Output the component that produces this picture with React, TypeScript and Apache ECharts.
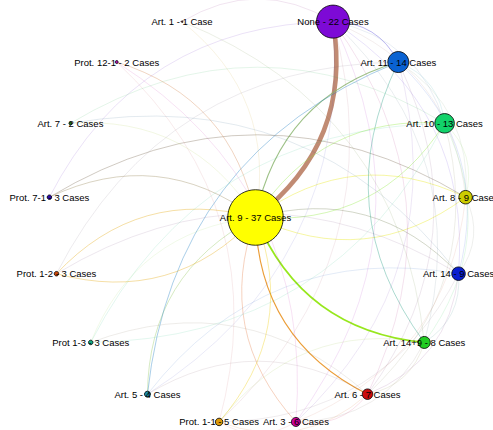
import React, { useEffect, useRef } from "react";
import * as echarts from "echarts";

// Nodes (Art. 9 sits in the middle, the rest go clockwise from the top)
const nodeNames = [
  "Art. 9", "None", "Art. 11", "Art. 10", "Art. 8", "Art. 14", "Art. 14+9", "Art. 6",
  "Art. 3", "Prot. 1-1", "Art. 5", "Prot 1-3", "Prot. 1-2", "Prot. 7-1", "Art. 7",
  "Prot. 12-1", "Art. 1",
];
const nodeCases = [37, 22, 14, 13, 9, 9, 8, 7, 6, 5, 4, 3, 3, 3, 2, 2, 1];
const nodeColors = [
  "#ffff00", "#7d0ad6", "#0a62d2", "#12d26a", "#cccc00", "#0a1fd0", "#22cc22", "#cc0a0a",
  "#cc0099", "#dd9a0a", "#1a8aaa", "#10aa80", "#c8480a", "#2a0aa8", "#1a7a1a",
  "#aa10aa", "#8a2a2a",
];

// Edges: source index, target index, shared cases
const edgeSources = [
  1, 6, 0, 7, 8, 10, 10, 0, 13, 13, 0, 0, 4, 12, 0, 0, 3, 15, 6, 1,
  14, 11, 16,
  1, 1, 1, 1, 1, 1, 1, 1, 2, 2, 2, 2, 2, 3, 3, 3, 3, 4, 4, 5, 5, 5,
  6, 6, 7, 7, 8, 10, 10, 11, 12, 13, 14, 15, 15, 16, 16, 14, 9, 11, 12,
];
const edgeTargets = [
  0, 0, 2, 0, 0, 0, 2, 9, 0, 4, 5, 4, 0, 0, 12, 3, 0, 0, 2, 2,
  0, 0, 0,
  3, 4, 5, 6, 7, 8, 10, 9, 3, 4, 5, 7, 8, 6, 4, 7, 11, 5, 8, 6, 7, 9,
  7, 8, 8, 9, 9, 5, 7, 3, 2, 1, 5, 8, 9, 6, 1, 3, 6, 7, 5,
];
const edgeValues = [
  11, 4, 3, 3, 2, 2, 2, 2, 2, 2, 2, 2, 2, 2, 2, 2, 2, 2, 2, 2,
  1, 1, 1,
  1, 1, 1, 1, 1, 1, 1, 1, 1, 1, 1, 1, 1, 1, 1, 1, 1, 1, 1, 1, 1, 1,
  1, 1, 1, 1, 1, 1, 1, 1, 1, 1, 1, 1, 1, 1, 1, 1, 1, 1, 1,
];

function hexToRgb(h: string): number[] {
  const v = parseInt(h.slice(1), 16);
  return [(v >> 16) & 255, (v >> 8) & 255, v & 255];
}
function mix(a: string, b: string): string {
  const x = hexToRgb(a);
  const y = hexToRgb(b);
  return `rgb(${Math.round((x[0] + y[0]) / 2)},${Math.round((x[1] + y[1]) / 2)},${Math.round((x[2] + y[2]) / 2)})`;
}

export default function App() {
  const ref = useRef<HTMLDivElement>(null);
  useEffect(() => {
    if (!ref.current) return;
    const chart = echarts.init(ref.current, undefined, { renderer: "svg" });

    // circular layout: hub in centre, the others evenly spaced on a ring
    const cx = 257.5;
    const cy = 216.5;
    const r = 209;
    const slots = nodeNames.length;
    const pos = nodeNames.map((_, i) => {
      if (i === 0) return [cx - 2, cy + 1];
      const a = (i * 2 * Math.PI) / slots;
      return [cx + r * Math.sin(a), cy - r * Math.cos(a)];
    });
    const xs = pos.map((p) => p[0]);
    const ys = pos.map((p) => p[1]);
    const minX = Math.min(...xs);
    const maxX = Math.max(...xs);
    const minY = Math.min(...ys);
    const maxY = Math.max(...ys);

    const nodes = nodeNames.map((n, i) => ({
      name: n,
      x: pos[i][0],
      y: pos[i][1],
      symbolSize: nodeCases[i] * 1.5,
      itemStyle: { color: nodeColors[i] },
      label: {
        formatter: `${n} - ${nodeCases[i]} ${nodeCases[i] === 1 ? "Case" : "Cases"}`,
      },
    }));

    const links = edgeSources.map((s, k) => {
      const v = edgeValues[k];
      return {
        source: nodeNames[s],
        target: nodeNames[edgeTargets[k]],
        value: v,
        lineStyle: {
          color: mix(nodeColors[s], nodeColors[edgeTargets[k]]),
          width: v === 1 ? 0.6 : v === 2 ? 0.8 : v === 3 ? 1.15 : 0.4 + v * 0.38,
          opacity: v === 1 ? 0.2 : v === 2 ? 0.45 : v === 3 ? 0.8 : 0.95,
          curveness: 0.3,
        },
      };
    });

    chart.setOption({
      animation: false,
      backgroundColor: "#ffffff",
      series: [
        {
          type: "graph",
          layout: "none",
          left: minX,
          top: minY,
          width: maxX - minX,
          height: maxY - minY,
          roam: false,
          data: nodes,
          links,
          itemStyle: { borderColor: "#000000", borderWidth: 0.8 },
          label: {
            show: true,
            position: "inside",
            color: "#000000",
            fontSize: 9.5,
            fontFamily: "Liberation Sans, Arial, sans-serif",
          },
          lineStyle: { curveness: 0.3 },
          emphasis: { disabled: true },
        },
      ],
    });
    return () => chart.dispose();
  }, []);
  return (
    <div
      ref={ref}
      style={{ position: "fixed", left: 0, top: 0, width: 493, height: 430, background: "#fff" }}
    />
  );
}
